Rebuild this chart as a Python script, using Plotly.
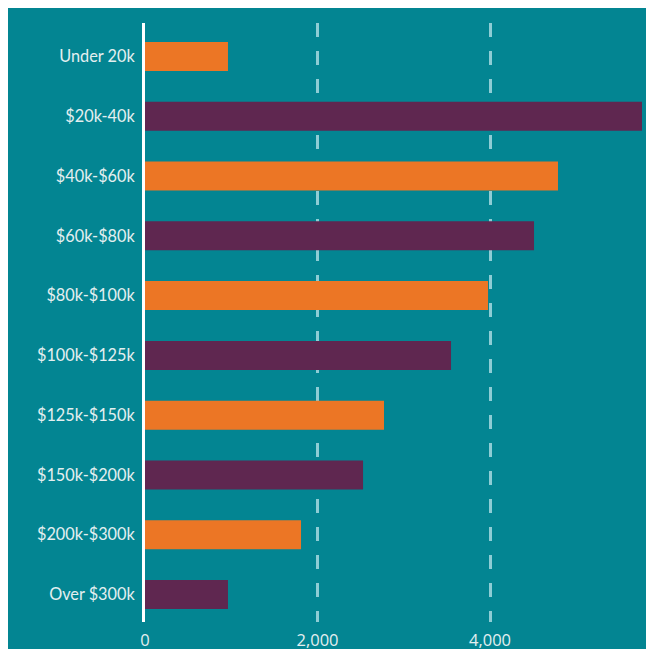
import plotly.graph_objects as go

categories = ["Under 20k", "$20k-40k", "$40k-$60k", "$60k-$80k", "$80k-$100k",
              "$100k-$125k", "$125k-$150k", "$150k-$200k", "$200k-$300k", "Over $300k"]
values = [962, 5762, 4788, 4510, 3977, 3548, 2771, 2528, 1809, 962]
bar_colors = ["#EC7625", "#5F2750"] * 5
x_ticks = [0, 2000, 4000]
x_tick_text = ["0", "2,000", "4,000"]

TEAL = "#038592"

fig = go.Figure(go.Bar(
    y=categories, x=values, orientation="h",
    marker=dict(color=bar_colors, line=dict(width=0)),
    width=0.485,
))

# page adds an 8px body margin around the figure
W, H = 638, 641
L, R, T, B = 137, 4, 15, 27

fig.update_layout(
    width=W, height=H,
    margin=dict(l=L, r=R, t=T, b=B, pad=0, autoexpand=False),
    paper_bgcolor=TEAL,
    plot_bgcolor=TEAL,
    showlegend=False,
    font=dict(family="Lato, Open Sans, sans-serif", size=16.3, color="#E3EFF0"),
)
fig.update_xaxes(
    range=[0, max(values)], tickvals=x_ticks, ticktext=x_tick_text,
    showgrid=True, gridcolor="rgba(190,230,235,0.75)", gridwidth=2.5, griddash="14px,14px",
    zeroline=False, showline=False, ticks="", ticklabelstandoff=6, automargin=False,
    tickfont=dict(family="Open Sans, sans-serif", size=16.5),
)
fig.update_yaxes(
    range=[len(categories) - 0.54, -0.56], showgrid=False, zeroline=False, automargin=False,
    showline=True, linecolor="white", linewidth=3, ticks="",
    ticklabelstandoff=4,
)

fig.write_html("out.html")
